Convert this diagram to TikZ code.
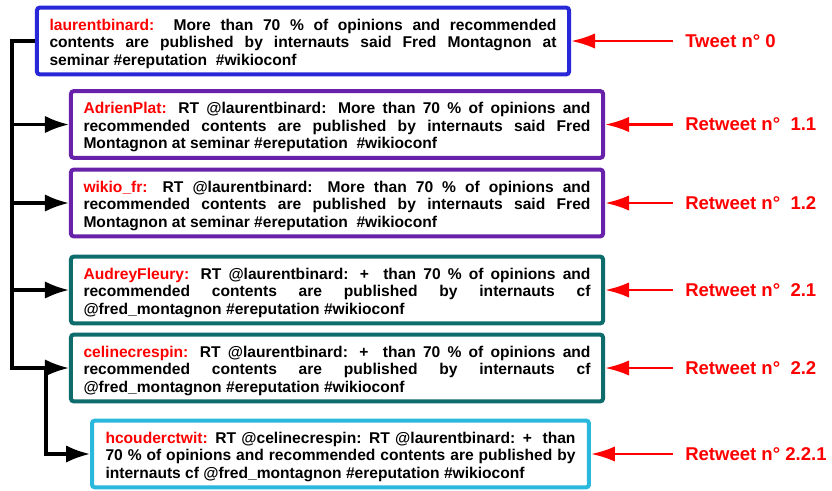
\documentclass[tikz,border=0pt]{standalone}
\usepackage{fontspec}
\setmainfont{Liberation Sans}
\usetikzlibrary{arrows.meta}

\definecolor{tweetblue}{RGB}{40,40,216}
\definecolor{rtpurple}{RGB}{104,34,170}
\definecolor{rtteal}{RGB}{14,108,108}
\definecolor{rtcyan}{RGB}{42,184,220}
\definecolor{tagred}{RGB}{255,0,0}

% user name in red, with a strut that drops the text a little
\newcommand{\user}[1]{\rule{0pt}{12.6pt}\textcolor{tagred}{#1}}

\begin{document}
\begin{tikzpicture}[x=0.75pt, y=-0.75pt,
    tweet/.style={draw, line width=3pt, rounded corners=2pt, fill=white,
        text width=380.25pt, inner xsep=9.4pt, inner ysep=0pt,
        minimum height=50pt, align=justify,
        font=\fontsize{11.7pt}{13.1pt}\selectfont\bfseries},
    tag/.style={anchor=west, inner xsep=9pt, text=tagred,
        font=\fontsize{13.9pt}{16pt}\selectfont\bfseries},
    link/.style={line width=2.3pt, -{Latex[length=18pt,width=13pt]}},
    pointer/.style={draw=tagred, line width=2pt, -{Latex[length=18pt,width=11.5pt]}}]

        \useasboundingbox (0,0) rectangle (832,490);

        % Tweet and retweet boxes
        \node[tweet, draw=tweetblue] (T_0) at (303,41) {%
            \user{laurentbinard:}\ \ More than 70 \% of opinions and recommended\linebreak
            contents are published by internauts said Fred Montagnon at\linebreak
            seminar \#ereputation\ \ \#wikioconf};
        \node[tweet, draw=rtpurple] (R_11) at (337,124.5) {%
            \user{AdrienPlat:} RT @laurentbinard: More than 70 \% of opinions and\linebreak
            recommended contents are published by internauts said Fred\linebreak
            Montagnon at seminar \#ereputation\ \ \#wikioconf};
        \node[tweet, draw=rtpurple] (R_12) at (337,203) {%
            \user{wikio\_fr:} RT @laurentbinard: More than 70 \% of opinions and\linebreak
            recommended contents are published by internauts said Fred\linebreak
            Montagnon at seminar \#ereputation\ \ \#wikioconf};
        \node[tweet, draw=rtteal] (R_21) at (337,290) {%
            \user{AudreyFleury:} RT @laurentbinard: +\ \ than 70 \% of opinions and\linebreak
            recommended contents are published by internauts cf\linebreak
            @fred\_montagnon \#ereputation \#wikioconf};
        \node[tweet, draw=rtteal] (R_22) at (337,368) {%
            \user{celinecrespin:} RT @laurentbinard: +\ \ than 70 \% of opinions and\linebreak
            recommended contents are published by internauts cf\linebreak
            @fred\_montagnon \#ereputation \#wikioconf};
        \node[tweet, draw=rtcyan, text width=352.5pt, inner xsep=10.1pt] (R_221) at (340.5,454) {%
            \user{hcouderctwit:} RT @celinecrespin: RT @laurentbinard: +\ \ than\linebreak
            70 \% of opinions and recommended contents are published by\linebreak
            internauts cf @fred\_montagnon \#ereputation \#wikioconf};

        % Retweet tree
        \coordinate (top) at (12,41);
        \coordinate (fork) at (46,368);
        \draw[link] (T_0.west) -- (top) |- (R_22.west);
        \foreach \n in {R_11,R_12,R_21}
            \draw[link] (top |- \n.west) -- (\n.west);
        \draw[link] (fork) |- (R_221.west);

        % Labels
        \node[tag] (L_0) at (673,41) {Tweet n° 0};
        \node[tag] (L_11) at (673,124.5) {Retweet n°\ \ 1.1};
        \node[tag] (L_12) at (673,203) {Retweet n°\ \ 1.2};
        \node[tag] (L_21) at (673,290) {Retweet n°\ \ 2.1};
        \node[tag] (L_22) at (673,368) {Retweet n°\ \ 2.2};
        \node[tag] (L_221) at (673,454) {Retweet n° 2.2.1};

        \draw[pointer] (L_0.west) -- (T_0.east);
        \draw[pointer] (L_11.west) -- (R_11.east);
        \draw[pointer] (L_12.west) -- (R_12.east);
        \draw[pointer] (L_21.west) -- (R_21.east);
        \draw[pointer] (L_22.west) -- (R_22.east);
        \draw[pointer] (L_221.west) -- (R_221.east);

\end{tikzpicture}
\end{document}
